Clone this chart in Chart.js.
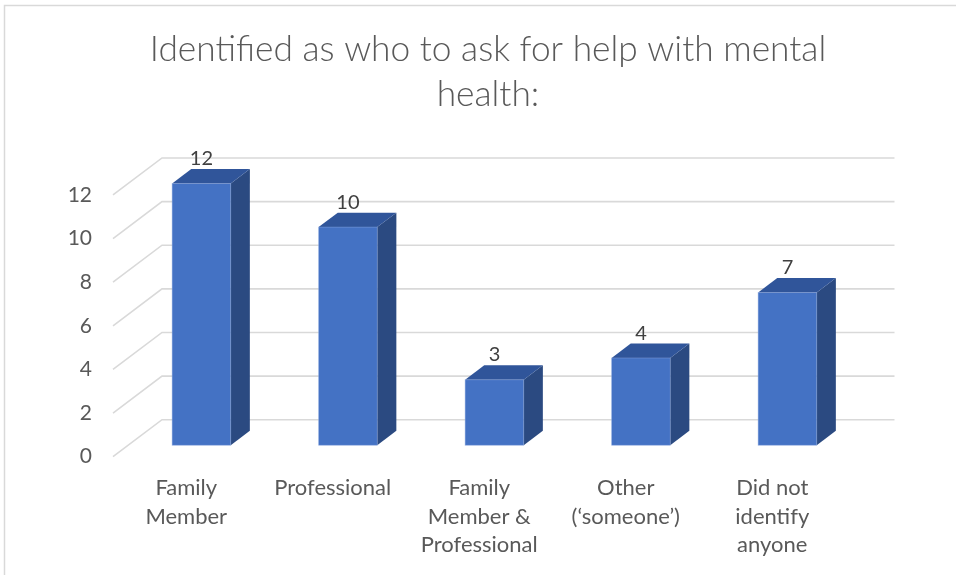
<!DOCTYPE html>
<html>
<head>
<meta charset="utf-8">
<title>Who to ask for help with mental health</title>
<script src="https://cdn.jsdelivr.net/npm/chart.js@4.4.1/dist/chart.umd.min.js"></script>
<style>
  html, body { margin: 0; padding: 0; background: #fff; }
  #wrap { position: relative; width: 956px; height: 575px; }
  canvas { display: block; }
</style>
</head>
<body>
<div id="wrap"><canvas id="chart" width="956" height="575"></canvas></div>
<script>
// answers, one bar per category
const categories = [
  ['Family', 'Member'],
  ['Professional'],
  ['Family', 'Member &', 'Professional'],
  ['Other', '(\u2018someone\u2019)'],
  ['Did not', 'identify', 'anyone']
];
const counts = [12, 10, 3, 4, 7];

// value axis
const yMin = 0;
const yMax = 12;
const yStep = 2;

const titleLines = ['Identified as who to ask for help with mental', 'health:'];

// how far the back wall sits behind the front plane, and the slice the bars take
const DEPTH = { dx: 49, dy: -37 };
const BAR_FRONT = 0.31;
const BAR_BACK = 0.70;

const GRID = '#d9d9d9';
const FACE = '#4472c4';
const TOP = '#30559a';
const SIDE = '#2b4a81';

function poly(ctx, pts, fill) {
  ctx.beginPath();
  ctx.moveTo(pts[0][0], pts[0][1]);
  for (let i = 1; i < pts.length; i++) ctx.lineTo(pts[i][0], pts[i][1]);
  ctx.closePath();
  ctx.fillStyle = fill;
  ctx.fill();
}

const box3d = {
  id: 'box3d',
  beforeDraw(chart) {
    // thin frame round the chart
    const ctx = chart.ctx;
    ctx.save();
    ctx.strokeStyle = GRID;
    ctx.lineWidth = 1.5;
    ctx.strokeRect(4.5, 5.5, chart.width + 20, chart.height + 20);
    ctx.restore();
  },
  beforeDatasetsDraw(chart) {
    // gridlines: a slanted stub on the side wall, then along the back wall
    const { ctx, chartArea: a, scales: { y } } = chart;
    ctx.save();
    ctx.strokeStyle = GRID;
    ctx.lineWidth = 1.6;
    y.ticks.forEach(t => {
      const py = y.getPixelForValue(t.value);
      ctx.beginPath();
      ctx.moveTo(a.left, py);
      ctx.lineTo(a.left + DEPTH.dx, py + DEPTH.dy);
      ctx.lineTo(a.right + DEPTH.dx, py + DEPTH.dy);
      ctx.stroke();
    });
    ctx.restore();
  },
  afterDatasetsDraw(chart) {
    const ctx = chart.ctx;
    const meta = chart.getDatasetMeta(0);
    const values = chart.data.datasets[0].data;
    const fx = DEPTH.dx * BAR_FRONT, fy = DEPTH.dy * BAR_FRONT;
    const bx = DEPTH.dx * (BAR_BACK - BAR_FRONT), by = DEPTH.dy * (BAR_BACK - BAR_FRONT);
    ctx.save();
    meta.data.forEach((bar, i) => {
      const { x, y, base, width } = bar.getProps(['x', 'y', 'base', 'width'], true);
      const l = x - width / 2 + fx, r = x + width / 2 + fx;
      const t = y + fy, b = base + fy;

      poly(ctx, [[l, t], [r, t], [r, b], [l, b]], FACE);
      poly(ctx, [[r, t], [r + bx, t + by], [r + bx, b + by], [r, b]], SIDE);
      poly(ctx, [[l, t], [l + bx, t + by], [r + bx, t + by], [r, t]], TOP);

      ctx.strokeStyle = 'rgba(140,170,225,0.55)';
      ctx.lineWidth = 0.8;
      ctx.strokeRect(l, t, r - l, b - t);

      // value label above the box
      ctx.fillStyle = '#404040';
      ctx.font = '20px Lato, "Liberation Sans", sans-serif';
      ctx.textAlign = 'center';
      ctx.textBaseline = 'alphabetic';
      ctx.fillText(String(values[i]), (l + r) / 2, t + by - 4);
    });
    ctx.restore();
  }
};

const ctx = document.getElementById('chart').getContext('2d');
new Chart(ctx, {
  type: 'bar',
  data: {
    labels: categories,
    datasets: [{
      data: counts,
      backgroundColor: 'rgba(0,0,0,0)',
      borderWidth: 0,
      categoryPercentage: 1,
      barPercentage: 0.4
    }]
  },
  options: {
    responsive: false,
    animation: false,
    events: [],
    layout: {
      padding: { left: 20, right: 0, top: 0, bottom: 0 }
    },
    plugins: {
      legend: { display: false },
      tooltip: { enabled: false },
      title: {
        display: true,
        text: titleLines,
        color: '#595959',
        font: { family: 'Lato, "Liberation Sans", sans-serif', size: 35.3, weight: '300', lineHeight: 1.28 },
        padding: { top: 27, bottom: 77.6 }
      }
    },
    scales: {
      x: {
        type: 'category',
        offset: true,
        grid: { display: false, drawTicks: false },
        border: { display: false },
        ticks: {
          color: '#595959',
          font: { family: 'Lato, "Liberation Sans", sans-serif', size: 22, lineHeight: 1.3 },
          padding: 17,
          maxRotation: 0,
          autoSkip: false
        },
        afterFit(s) { s.height = 118.3; }
      },
      y: {
        min: yMin,
        max: yMax,
        grid: { display: false, drawTicks: false },
        border: { display: false },
        ticks: {
          stepSize: yStep,
          color: '#595959',
          font: { family: 'Lato, "Liberation Sans", sans-serif', size: 21 },
          padding: 21
        },
        afterFit(s) { s.width = 93; }
      },
      // empty right-hand strip that leaves room for the receding back wall
      depthRoom: {
        type: 'linear',
        position: 'right',
        grid: { display: false, drawTicks: false },
        border: { display: false },
        ticks: { display: false },
        afterFit(s) { s.width = 110.5; }
      }
    }
  },
  plugins: [box3d]
});
</script>
</body>
</html>
